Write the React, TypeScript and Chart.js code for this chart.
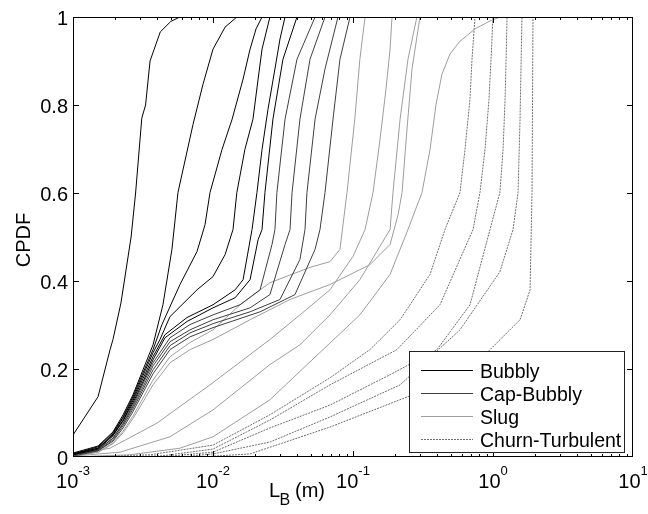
import React, { useEffect, useRef } from 'react';
import { Chart, registerables } from 'chart.js';

Chart.register(...registerables);

const FONT = "'Liberation Sans', Arial, Helvetica, sans-serif";

const regimes = ['Bubbly', 'Cap-Bubbly', 'Slug', 'Churn-Turbulent'];
const regimeColors = ['#000000', '#3f3f3f', '#9d9d9d', '#6f6f6f'];
const regimeDashes: number[][] = [[], [], [], [2, 1]];

const yTicks = [0, 0.2, 0.4, 0.6, 0.8, 1];
const yTickLabels = ['0', '0.2', '0.4', '0.6', '0.8', '1'];
const xMajorTicks = [0.001, 0.01, 0.1, 1, 10];
const xTickExponents = ['-3', '-2', '-1', '0', '1'];
const xMinorMantissas = [2, 3, 4, 5, 6, 7, 8, 9];

type Pt = [number, number];

const bubblyA: Pt[] = [[0.001,0.05],[0.00151,0.137],[0.00184,0.244],[0.00193,0.267],[0.0022,0.35],[0.0026,0.5],[0.0028,0.6],[0.0031,0.77],[0.0033,0.8],[0.00355,0.9],[0.0042,0.966],[0.005,0.99],[0.0058,1]];
const bubblyB: Pt[] = [[0.001,0.009],[0.00151,0.025],[0.00193,0.057],[0.00228,0.096],[0.00268,0.141],[0.00316,0.198],[0.00373,0.255],[0.00439,0.346],[0.00509,0.472],[0.00562,0.601],[0.0072,0.756],[0.00848,0.847],[0.01,0.927],[0.0122,0.977],[0.0148,1]];
const bubblyC: Pt[] = [[0.001,0.007],[0.00151,0.023],[0.00193,0.055],[0.00228,0.091],[0.00268,0.137],[0.00316,0.191],[0.00373,0.244],[0.00432,0.301],[0.00581,0.392],[0.00769,0.467],[0.00877,0.528],[0.00952,0.601],[0.0116,0.699],[0.0137,0.768],[0.0164,0.859],[0.0184,0.927],[0.0203,0.973],[0.0224,1]];
const bubblyD: Pt[] = [[0.001,0.007],[0.00151,0.02],[0.00193,0.052],[0.00228,0.089],[0.00268,0.132],[0.00316,0.185],[0.00373,0.237],[0.00418,0.267],[0.00493,0.319],[0.00769,0.38],[0.01,0.41],[0.0122,0.46],[0.0139,0.517],[0.0148,0.601],[0.0169,0.699],[0.0193,0.768],[0.021,0.859],[0.0224,0.927],[0.0255,1]];
const bubblyE: Pt[] = [[0.001,0.007],[0.00151,0.02],[0.00193,0.05],[0.00228,0.084],[0.00268,0.128],[0.00316,0.178],[0.00373,0.228],[0.00454,0.278],[0.00652,0.317],[0.01,0.346],[0.0144,0.38],[0.0164,0.403],[0.019,0.517],[0.0206,0.601],[0.0224,0.699],[0.0247,0.79],[0.0277,0.882],[0.0301,0.95],[0.0327,1]];
const bubblyF: Pt[] = [[0.001,0.005],[0.00151,0.018],[0.00193,0.048],[0.00228,0.082],[0.00268,0.123],[0.00316,0.171],[0.00373,0.221],[0.00454,0.271],[0.00652,0.308],[0.01,0.339],[0.0144,0.362],[0.0184,0.403],[0.021,0.494],[0.0224,0.517],[0.0235,0.601],[0.0268,0.768],[0.0316,0.904],[0.0398,1]];
const capG: Pt[] = [[0.001,0.005],[0.00151,0.016],[0.00193,0.043],[0.00228,0.077],[0.00268,0.118],[0.00316,0.166],[0.00373,0.214],[0.00493,0.271],[0.00685,0.301],[0.01,0.323],[0.0156,0.346],[0.0217,0.38],[0.0264,0.483],[0.0277,0.517],[0.0286,0.601],[0.0327,0.768],[0.0398,0.904],[0.0536,1]];
const capH: Pt[] = [[0.001,0.005],[0.00151,0.016],[0.00193,0.043],[0.00228,0.075],[0.00268,0.114],[0.00316,0.159],[0.00373,0.207],[0.00493,0.262],[0.00685,0.289],[0.01,0.312],[0.0184,0.339],[0.0255,0.369],[0.0327,0.483],[0.0355,0.517],[0.0367,0.601],[0.0418,0.768],[0.0493,0.904],[0.0631,1]];
const capI: Pt[] = [[0.001,0.005],[0.00151,0.014],[0.00193,0.039],[0.00228,0.071],[0.00268,0.109],[0.00316,0.153],[0.00373,0.198],[0.00493,0.253],[0.00685,0.282],[0.01,0.303],[0.0184,0.33],[0.0301,0.358],[0.0418,0.449],[0.0454,0.517],[0.0469,0.601],[0.0536,0.768],[0.0631,0.882],[0.0781,1]];
const capJ: Pt[] = [[0.001,0.002],[0.00151,0.014],[0.00193,0.036],[0.00228,0.066],[0.00268,0.103],[0.00316,0.146],[0.00373,0.189],[0.00493,0.244],[0.00685,0.273],[0.01,0.294],[0.0217,0.33],[0.0385,0.369],[0.0536,0.472],[0.0581,0.517],[0.0631,0.601],[0.072,0.768],[0.0807,0.904],[0.0952,1]];
const slugK: Pt[] = [[0.001,0.002],[0.00151,0.011],[0.00193,0.032],[0.00228,0.059],[0.00268,0.093],[0.00316,0.134],[0.00373,0.175],[0.00493,0.228],[0.00685,0.26],[0.01,0.289],[0.0156,0.346],[0.0255,0.396],[0.0493,0.431],[0.0685,0.444],[0.0807,0.472],[0.0906,0.601],[0.103,0.768],[0.112,0.904],[0.122,1]];
const slugK2: Pt[] = [[0.001,0.002],[0.00151,0.011],[0.00193,0.03],[0.00228,0.055],[0.00268,0.087],[0.00316,0.125],[0.00373,0.164],[0.00493,0.214],[0.00685,0.244],[0.01,0.267],[0.0184,0.312],[0.0355,0.358],[0.0685,0.392],[0.132,0.437],[0.184,0.483],[0.21,0.551],[0.224,0.601],[0.243,0.745],[0.264,0.882],[0.301,1]];
const slugL1: Pt[] = [[0.001,0.005],[0.00184,0.02],[0.00398,0.077],[0.01,0.169],[0.0255,0.267],[0.0418,0.323],[0.0685,0.38],[0.1,0.456],[0.122,0.517],[0.139,0.601],[0.156,0.722],[0.172,0.836],[0.184,0.927],[0.19,1]];
const slugL2: Pt[] = [[0.001,0.002],[0.00217,0.011],[0.00493,0.046],[0.01,0.107],[0.0255,0.21],[0.0418,0.255],[0.0685,0.323],[0.112,0.403],[0.184,0.517],[0.193,0.601],[0.217,0.768],[0.247,0.904],[0.286,1]];
const slugN: Pt[] = [[0.001,0],[0.00255,0.005],[0.00581,0.02],[0.01,0.046],[0.0255,0.13],[0.061,0.244],[0.112,0.323],[0.184,0.415],[0.247,0.517],[0.311,0.601],[0.355,0.699],[0.392,0.802],[0.432,0.87],[0.493,0.916],[0.581,0.945],[0.744,0.973],[0.952,0.991],[1.12,1]];
const churnO: Pt[] = [[0.001,0],[0.00355,0.005],[0.01,0.027],[0.0255,0.096],[0.0685,0.18],[0.132,0.244],[0.217,0.312],[0.355,0.415],[0.454,0.517],[0.581,0.601],[0.631,0.699],[0.685,0.813],[0.708,0.904],[0.744,1]];
const churnP: Pt[] = [[0.001,0],[0.00418,0.002],[0.01,0.018],[0.0255,0.084],[0.0685,0.164],[0.206,0.244],[0.418,0.346],[0.72,0.517],[0.807,0.601],[0.877,0.699],[0.936,0.813],[0.968,0.904],[1.0,1]];
const churnQ: Pt[] = [[0.001,0],[0.00493,0.002],[0.01,0.011],[0.0255,0.066],[0.0685,0.118],[0.184,0.187],[0.398,0.244],[0.685,0.346],[0.952,0.517],[1.12,0.601],[1.18,0.699],[1.22,0.813],[1.24,0.904],[1.26,1]];
const churnR: Pt[] = [[0.001,0],[0.00581,0],[0.01,0.007],[0.0255,0.034],[0.0685,0.091],[0.217,0.164],[0.581,0.289],[1.12,0.421],[1.39,0.517],[1.51,0.601],[1.56,0.768],[1.61,1]];
const churnS: Pt[] = [[0.001,0],[0.00807,0],[0.0184,0.007],[0.0685,0.068],[0.301,0.148],[0.807,0.221],[1.56,0.312],[1.84,0.38],[1.9,0.601],[1.93,1]];

const curves: { regime: number; pts: Pt[] }[] = [
  { regime: 0, pts: bubblyA }, { regime: 0, pts: bubblyB }, { regime: 0, pts: bubblyC },
  { regime: 0, pts: bubblyD }, { regime: 0, pts: bubblyE }, { regime: 0, pts: bubblyF },
  { regime: 1, pts: capG }, { regime: 1, pts: capH }, { regime: 1, pts: capI }, { regime: 1, pts: capJ },
  { regime: 2, pts: slugK }, { regime: 2, pts: slugK2 }, { regime: 2, pts: slugL1 },
  { regime: 2, pts: slugL2 }, { regime: 2, pts: slugN },
  { regime: 3, pts: churnO }, { regime: 3, pts: churnP }, { regime: 3, pts: churnQ },
  { regime: 3, pts: churnR }, { regime: 3, pts: churnS },
];

const decor = {
  id: 'decor',
  afterDraw(chart: any) {
    const { ctx, chartArea: a } = chart;
    const xs = chart.scales.x;
    const ys = chart.scales.y;
    ctx.save();
    ctx.setLineDash([]);
    ctx.strokeStyle = '#000';
    ctx.lineWidth = 1;
    ctx.strokeRect(a.left + 0.5, a.top + 0.5, a.right - a.left - 1, a.bottom - a.top - 1);

    const clampX = (p: number) => Math.min(Math.max(Math.round(p) + 0.5, a.left + 0.5), a.right - 0.5);
    const clampY = (p: number) => Math.min(Math.max(Math.round(p) + 0.5, a.top + 0.5), a.bottom - 0.5);

    ctx.beginPath();
    yTicks.forEach((v) => {
      const py = clampY(ys.getPixelForValue(v));
      ctx.moveTo(a.left, py); ctx.lineTo(a.left + 6, py);
      ctx.moveTo(a.right, py); ctx.lineTo(a.right - 6, py);
    });
    xMajorTicks.forEach((v, i) => {
      const px = clampX(xs.getPixelForValue(v));
      ctx.moveTo(px, a.bottom); ctx.lineTo(px, a.bottom - 6);
      ctx.moveTo(px, a.top); ctx.lineTo(px, a.top + 6);
      if (i < xMajorTicks.length - 1) {
        xMinorMantissas.forEach((m) => {
          const q = clampX(xs.getPixelForValue(v * m));
          ctx.moveTo(q, a.bottom); ctx.lineTo(q, a.bottom - 3);
          ctx.moveTo(q, a.top); ctx.lineTo(q, a.top + 3);
        });
      }
    });
    ctx.stroke();

    // legend
    const lx = 409.5, ly = 351.5, lw = 215, lh = 101;
    ctx.fillStyle = '#fff';
    ctx.fillRect(lx, ly, lw, lh);
    ctx.strokeStyle = '#222';
    ctx.strokeRect(lx, ly, lw, lh);
    regimes.forEach((name, i) => {
      const cy = 370.5 + i * 23;
      ctx.strokeStyle = regimeColors[i];
      ctx.setLineDash(regimeDashes[i]);
      ctx.beginPath();
      ctx.moveTo(421, cy); ctx.lineTo(473, cy);
      ctx.stroke();
      ctx.setLineDash([]);
      ctx.fillStyle = '#000';
      ctx.font = `19.5px ${FONT}`;
      ctx.textAlign = 'left';
      ctx.textBaseline = 'alphabetic';
      ctx.fillText(name, 480, cy + 7);
    });

    // y tick labels
    ctx.fillStyle = '#000';
    ctx.font = `20px ${FONT}`;
    ctx.textAlign = 'right';
    ctx.textBaseline = 'alphabetic';
    yTicks.forEach((v, i) => {
      const py = ys.getPixelForValue(v);
      ctx.fillText(yTickLabels[i], a.left - 5, py + 7.5);
    });

    // x tick labels with superscripts
    ctx.textAlign = 'left';
    xMajorTicks.forEach((v, i) => {
      const px = xs.getPixelForValue(v);
      ctx.font = `20px ${FONT}`;
      const wb = ctx.measureText('10').width;
      ctx.font = `13px ${FONT}`;
      const we = ctx.measureText(xTickExponents[i]).width;
      const x0 = px - (wb + we) / 2;
      ctx.font = `20px ${FONT}`;
      ctx.fillText('10', x0, 488);
      ctx.font = `13px ${FONT}`;
      ctx.fillText(xTickExponents[i], x0 + wb, 475);
    });

    // axis titles
    ctx.font = `20px ${FONT}`;
    ctx.fillText('L', 269, 497);
    const wl = ctx.measureText('L').width;
    ctx.font = `16px ${FONT}`;
    ctx.fillText('B', 269 + wl - 0.5, 505);
    ctx.font = `20px ${FONT}`;
    ctx.fillText('(m)', 295, 497);

    ctx.save();
    ctx.translate(30, 240);
    ctx.rotate(-Math.PI / 2);
    ctx.textAlign = 'center';
    ctx.fillText('CPDF', 0, 0);
    ctx.restore();

    ctx.restore();
  },
};

export default function App() {
  const ref = useRef<HTMLCanvasElement>(null);
  useEffect(() => {
    const chart = new Chart(ref.current as HTMLCanvasElement, {
      type: 'scatter',
      data: {
        datasets: curves.map((c) => ({
          label: regimes[c.regime],
          data: c.pts.map(([x, y]) => ({ x, y })),
          showLine: true,
          borderColor: regimeColors[c.regime],
          borderWidth: 1,
          borderDash: regimeDashes[c.regime],
          pointRadius: 0,
          pointHoverRadius: 0,
          fill: false,
          tension: 0,
        })),
      },
      options: {
        animation: false,
        responsive: false,
        events: [],
        layout: { padding: { left: 73, right: 15, top: 17, bottom: 57 } },
        scales: {
          x: { type: 'logarithmic', min: 0.001, max: 10, display: false },
          y: { type: 'linear', min: 0, max: 1, display: false },
        },
        plugins: { legend: { display: false }, tooltip: { enabled: false } },
      },
      plugins: [decor],
    } as any);
    return () => chart.destroy();
  }, []);
  return (
    <div style={{ position: 'fixed', left: 0, top: 0, width: 648, height: 514, background: '#fff' }}>
      <canvas ref={ref} width={648} height={514} style={{ display: 'block' }} />
    </div>
  );
}
